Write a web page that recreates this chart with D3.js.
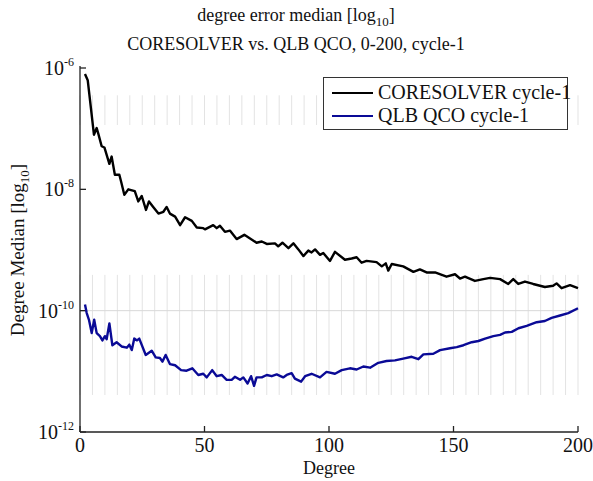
<!DOCTYPE html>
<html><head><meta charset="utf-8">
<script src="https://cdn.jsdelivr.net/npm/d3@7"></script>
<style>body{margin:0;background:#fff}svg{display:block}text{font-family:"Liberation Serif","Times New Roman",serif;fill:#111}</style>
</head><body><svg id="c" width="593" height="481"></svg>
<script>
// ---- data (degree, log10 of median error) ----
const corDeg = [2,3.1,5.6,6.7,7.4,8.7,9.8,11.8,12.7,14,15.8,16.5,17.8,19.4,22,23.4,24.8,26.5,27.7,29.4,31.5,33.5,34.8,36.1,38.2,40.2,42.2,44.9,46.9,49.5,50.2,53.5,54.9,56.2,58.2,60.2,62.9,66,68.3,70.9,73,75,78.3,79.6,81.3,83.7,85.7,87.7,89.7,91.7,93,94.4,96.4,97.7,100.4,102.4,106.4,109.1,111.1,113.1,115.1,119.1,121.2,122.8,123.8,125.2,129.8,133.9,136.5,139.2,142.6,147.2,150.6,152.6,154.6,158.6,162,164.7,168.7,172,174,176,178.7,182,186.7,190,191.4,193.4,196.8,200];
const corLog10 = [-6.10,-6.2,-7.1,-6.99,-7.09,-7.29,-7.31,-7.58,-7.46,-7.76,-7.76,-7.87,-8.09,-8.0,-8.03,-8.2,-8.11,-8.34,-8.2,-8.29,-8.40,-8.37,-8.29,-8.40,-8.45,-8.59,-8.46,-8.52,-8.63,-8.64,-8.66,-8.59,-8.64,-8.60,-8.70,-8.68,-8.82,-8.75,-8.81,-8.88,-8.86,-8.90,-8.89,-8.94,-8.88,-8.97,-8.89,-8.99,-9.10,-9.01,-9.04,-8.99,-9.08,-9.05,-9.18,-9.03,-9.16,-9.14,-9.12,-9.21,-9.18,-9.20,-9.27,-9.22,-9.34,-9.23,-9.27,-9.36,-9.32,-9.37,-9.37,-9.44,-9.40,-9.47,-9.44,-9.51,-9.48,-9.46,-9.48,-9.56,-9.48,-9.56,-9.52,-9.56,-9.61,-9.59,-9.55,-9.63,-9.58,-9.63];
const qlbDeg = [2,2.7,3.6,4.7,5.7,6.7,8,9,10,10.7,11.8,13,14.7,16.7,18.8,19.8,20.8,21.8,22.9,23.8,26.4,28.8,30.4,32.1,33.1,34.4,36.1,38.2,40.6,42.8,45.1,47.5,49.5,50.9,53.1,54.9,56.9,58.9,60.9,62.2,64.3,65.6,67.3,68.7,69.9,70.9,73,75,77,79,81.6,83,85,86.3,88.8,90.4,93,96.4,99,102.4,105.1,108.4,111.1,113.8,116.5,119.8,123.1,126.5,129.8,133.2,135.9,137.9,141.9,144.6,148.6,151.3,154,157.3,160,162.7,166,168.7,170.7,173.4,176.1,179.4,183.4,186.7,189.4,192.8,196.1,200];
const qlbLog10 = [-9.90,-10.04,-10.15,-10.37,-10.15,-10.37,-10.42,-10.49,-10.42,-10.47,-10.21,-10.57,-10.52,-10.59,-10.61,-10.56,-10.65,-10.46,-10.49,-10.46,-10.73,-10.66,-10.77,-10.78,-10.84,-10.73,-10.88,-10.90,-10.98,-10.99,-10.95,-11.06,-11.04,-11.10,-10.98,-11.08,-11.06,-11.14,-11.14,-11.09,-11.14,-11.10,-11.20,-11.08,-11.24,-11.10,-11.10,-11.06,-11.08,-11.05,-11.10,-11.06,-11.03,-11.12,-11.17,-11.08,-11.04,-11.10,-11.01,-11.04,-10.98,-10.95,-10.97,-10.92,-10.94,-10.86,-10.83,-10.82,-10.79,-10.76,-10.80,-10.72,-10.71,-10.65,-10.62,-10.60,-10.57,-10.52,-10.50,-10.46,-10.42,-10.40,-10.36,-10.35,-10.29,-10.25,-10.19,-10.17,-10.12,-10.08,-10.04,-9.96];
const seriesNames = ["CORESOLVER cycle-1","QLB QCO cycle-1"];
const xTicks = [0,50,100,150,200];
const yTickExps = [-6,-8,-10,-12];
const gridBandsLog = [[-6.45,-6.94],[-9.41,-11.39]];

// ---- layout ----
const svg = d3.select("#c");
const L=80, R=578, T=68, B=432;
const x = d3.scaleLinear().domain([0,200]).range([L,R]);
const y = d3.scaleLog().domain([1e-12,1e-6]).range([B,T]);
const colors = ["#000000","#0a0a96"];

// grid
const g = svg.append("g");
const vx = d3.range(0,201,5);
gridBandsLog.forEach(b=>{
  g.selectAll(null).data(vx).enter().append("line")
    .attr("x1",d=>x(d)).attr("x2",d=>x(d))
    .attr("y1",y(10**b[0])).attr("y2",y(10**b[1]))
    .attr("stroke","#e3e3e3").attr("stroke-width",1);
});
g.append("line").attr("x1",L).attr("x2",R).attr("y1",y(1e-10)).attr("y2",y(1e-10))
  .attr("stroke","#d8d8d8").attr("stroke-width",1);

// axes
const ax = svg.append("g").attr("stroke","#222").attr("stroke-width",1.3);
ax.append("line").attr("x1",L).attr("x2",L).attr("y1",T-2).attr("y2",B);
ax.append("line").attr("x1",L).attr("x2",R).attr("y1",B).attr("y2",B);
xTicks.forEach(t=>ax.append("line").attr("x1",x(t)).attr("x2",x(t)).attr("y1",B).attr("y2",B-6));
yTickExps.forEach(e=>ax.append("line").attr("x1",L).attr("x2",L+6).attr("y1",y(10**e)).attr("y2",y(10**e)));

svg.selectAll(".xt").data(xTicks).enter().append("text")
  .attr("x",d=>x(d)).attr("y",B+20).attr("text-anchor","middle")
  .style("font-size","20px").text(d=>d);
yTickExps.forEach(e=>{
  const t = svg.append("text").attr("x",L-6).attr("y",y(10**e)+7).attr("text-anchor","end").style("font-size","20px");
  t.append("tspan").text("10");
  t.append("tspan").attr("dy",-9).style("font-size","12px").text(String(e));
});

// lines
const line = d3.line().x(d=>x(d[0])).y(d=>y(10**d[1]));
[[corDeg,corLog10],[qlbDeg,qlbLog10]].forEach((s,i)=>{
  svg.append("path").datum(d3.zip(s[0],s[1])).attr("d",line)
    .attr("fill","none").attr("stroke",colors[i]).attr("stroke-width",2.4)
    .attr("stroke-linejoin","round");
});

// titles
const t1 = svg.append("text").attr("x",296).attr("y",21).attr("text-anchor","middle").style("font-size","18px");
t1.append("tspan").text("degree error median [log");
t1.append("tspan").attr("dy",5).style("font-size","13px").text("10");
t1.append("tspan").attr("dy",-5).text("]");
svg.append("text").attr("x",296).attr("y",50).attr("text-anchor","middle").style("font-size","18px")
  .text("CORESOLVER vs. QLB QCO, 0-200, cycle-1");
svg.append("text").attr("x",329).attr("y",474).attr("text-anchor","middle").style("font-size","18px").text("Degree");
const yl = svg.append("text").attr("transform","translate(24,250) rotate(-90)").attr("text-anchor","middle").style("font-size","19px");
yl.append("tspan").text("Degree Median [log");
yl.append("tspan").attr("dy",5).style("font-size","13px").text("10");
yl.append("tspan").attr("dy",-5).text("]");

// legend
const lg = svg.append("g");
lg.append("rect").attr("x",323.5).attr("y",77.5).attr("width",244).attr("height",52)
  .attr("fill","#fff").attr("stroke","#333").attr("stroke-width",1);
seriesNames.forEach((n,i)=>{
  const yy = 93 + i*23;
  lg.append("line").attr("x1",332).attr("x2",373).attr("y1",yy).attr("y2",yy).attr("stroke",colors[i]).attr("stroke-width",2);
  lg.append("text").attr("x",378).attr("y",yy+6).style("font-size","20px").text(n);
});
</script></body></html>
